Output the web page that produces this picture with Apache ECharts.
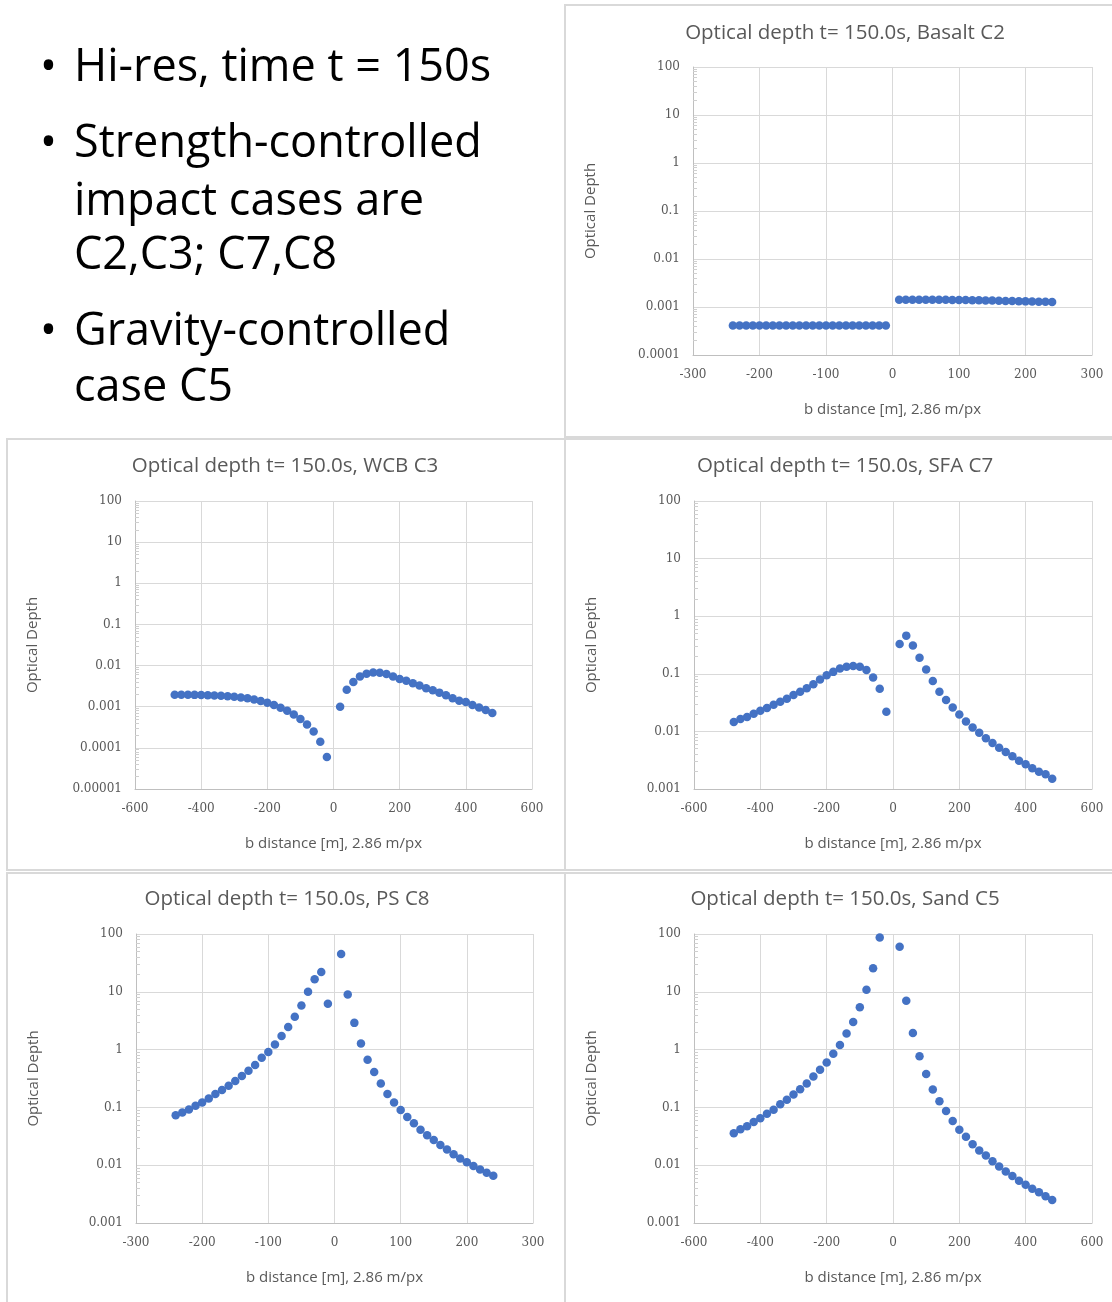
<!DOCTYPE html>
<html>
<head>
<meta charset="utf-8">
<title>Optical depth t = 150 s</title>
<script src="https://cdn.jsdelivr.net/npm/echarts@6/dist/echarts.min.js"></script>
<style>
  html, body { margin: 0; padding: 0; background: #fff; }
  #main { width: 1112px; height: 1302px; }
</style>
</head>
<body>
<div id="main"></div>
<script>
// Basalt C2 (step 10 m, nothing at 0)
const c2X = [-240, -230, -220, -210, -200, -190, -180, -170, -160, -150, -140, -130,
  -120, -110, -100, -90, -80, -70, -60, -50, -40, -30, -20, -10,
  10, 20, 30, 40, 50, 60, 70, 80, 90, 100, 110, 120,
  130, 140, 150, 160, 170, 180, 190, 200, 210, 220, 230, 240];
const c2Y = [0.00041, 0.00041, 0.00041, 0.00041, 0.00041, 0.00041, 0.00041, 0.00041, 0.00041, 0.00041, 0.00041, 0.00041,
  0.00041, 0.00041, 0.00041, 0.00041, 0.00041, 0.00041, 0.00041, 0.00041, 0.00041, 0.00041, 0.00041, 0.00041,
  0.00142, 0.00142, 0.00142, 0.00142, 0.00142, 0.00141, 0.00141, 0.00141, 0.0014, 0.0014, 0.0014, 0.00139,
  0.00138, 0.00137, 0.00136, 0.00135, 0.00134, 0.00133, 0.00132, 0.00131, 0.0013, 0.00129, 0.00128, 0.00127];

// WCB C3 (step 20 m)
const c3X = [-480, -460, -440, -420, -400, -380, -360, -340, -320, -300, -280, -260,
  -240, -220, -200, -180, -160, -140, -120, -100, -80, -60, -40, -20,
  20, 40, 60, 80, 100, 120, 140, 160, 180, 200, 220, 240,
  260, 280, 300, 320, 340, 360, 380, 400, 420, 440, 460, 480];
const c3Y = [0.00195, 0.00195, 0.00195, 0.00194, 0.00192, 0.0019, 0.00188, 0.00184, 0.0018, 0.00175, 0.00168, 0.0016,
  0.0015, 0.00138, 0.00125, 0.0011, 0.00095, 0.0008, 0.00065, 0.0005, 0.00037, 0.00025, 0.00014, 0.00006,
  0.001, 0.0026, 0.004, 0.0054, 0.0063, 0.0068, 0.0067, 0.0062, 0.0054, 0.0047, 0.0043, 0.0037,
  0.0033, 0.0028, 0.0025, 0.0022, 0.0019, 0.0016, 0.0014, 0.0013, 0.0011, 0.00096, 0.00083, 0.0007];

// SFA C7 (step 20 m)
const c7X = [-480, -460, -440, -420, -400, -380, -360, -340, -320, -300, -280, -260,
  -240, -220, -200, -180, -160, -140, -120, -100, -80, -60, -40, -20,
  20, 40, 60, 80, 100, 120, 140, 160, 180, 200, 220, 240,
  260, 280, 300, 320, 340, 360, 380, 400, 420, 440, 460, 480];
const c7Y = [0.0145, 0.0164, 0.0177, 0.0202, 0.0228, 0.0254, 0.029, 0.0326, 0.037, 0.0427, 0.0488, 0.056,
  0.066, 0.08, 0.094, 0.108, 0.124, 0.132, 0.137, 0.132, 0.116, 0.086, 0.055, 0.022,
  0.33, 0.46, 0.31, 0.19, 0.119, 0.075, 0.049, 0.035, 0.026, 0.0197, 0.0149, 0.0117,
  0.0095, 0.0076, 0.0063, 0.0052, 0.0044, 0.0037, 0.0031, 0.0027, 0.0023, 0.002, 0.0018, 0.0015];

// PS C8 (step 10 m)
const c8X = [-240, -230, -220, -210, -200, -190, -180, -170, -160, -150, -140, -130,
  -120, -110, -100, -90, -80, -70, -60, -50, -40, -30, -20, -10,
  10, 20, 30, 40, 50, 60, 70, 80, 90, 100, 110, 120,
  130, 140, 150, 160, 170, 180, 190, 200, 210, 220, 230, 240];
const c8Y = [0.073, 0.082, 0.092, 0.107, 0.122, 0.143, 0.17, 0.2, 0.237, 0.285, 0.35, 0.43,
  0.54, 0.72, 0.91, 1.22, 1.72, 2.46, 3.7, 5.8, 10, 16.5, 22, 6.2,
  45, 9.0, 2.9, 1.27, 0.67, 0.41, 0.26, 0.17, 0.122, 0.09, 0.068, 0.053,
  0.041, 0.033, 0.0274, 0.0224, 0.0187, 0.0155, 0.013, 0.0113, 0.0097, 0.0084, 0.0074, 0.0066];

// Sand C5 (step 20 m, -20 is off the top of the chart)
const c5X = [-480, -460, -440, -420, -400, -380, -360, -340, -320, -300, -280, -260,
  -240, -220, -200, -180, -160, -140, -120, -100, -80, -60, -40,
  20, 40, 60, 80, 100, 120, 140, 160, 180, 200, 220, 240,
  260, 280, 300, 320, 340, 360, 380, 400, 420, 440, 460, 480];
const c5Y = [0.0356, 0.0418, 0.047, 0.056, 0.0646, 0.0777, 0.091, 0.113, 0.136, 0.167, 0.207, 0.26,
  0.342, 0.45, 0.6, 0.85, 1.2, 1.9, 3.0, 5.4, 10.8, 25.6, 87,
  60, 7.0, 1.94, 0.77, 0.38, 0.204, 0.128, 0.0865, 0.058, 0.041, 0.031, 0.023,
  0.018, 0.0147, 0.0117, 0.0095, 0.0078, 0.0065, 0.0054, 0.0046, 0.0039, 0.0034, 0.0029, 0.0025];

const titles = ['Optical depth t= 150.0s, Basalt C2', 'Optical depth t= 150.0s, WCB C3',
  'Optical depth t= 150.0s, SFA C7', 'Optical depth t= 150.0s, PS C8', 'Optical depth t= 150.0s, Sand C5'];
const xRanges = [[-300, 300, 100], [-600, 600, 200], [-600, 600, 200], [-300, 300, 100], [-600, 600, 200]];
const yRanges = [[0.0001, 100], [0.00001, 100], [0.001, 100], [0.001, 100], [0.001, 100]];
const bullets = ['Hi-res, time t = 150s', 'Strength-controlled', 'impact cases are', 'C2,C3; C7,C8',
  'Gravity-controlled', 'case C5'];

const xs = [c2X, c3X, c7X, c8X, c5X];
const ys = [c2Y, c3Y, c7Y, c8Y, c5Y];

// where each panel sits on the page
const grids = [
  { left: 693, top: 67, width: 399, height: 288 },
  { left: 135, top: 501, width: 397, height: 288 },
  { left: 694, top: 501, width: 398, height: 288 },
  { left: 136, top: 934, width: 397, height: 289 },
  { left: 694, top: 934, width: 398, height: 289 }
];
const titlePos = [[845, 23], [285, 456], [845, 456], [287, 889], [845, 889]];

const grey = '#595959';
const tickFont = 'DejaVu Serif';

function logLabel(v) {
  const e = Math.round(Math.log10(v));
  return e >= 0 ? String(Math.round(Math.pow(10, e))) : '0.' + '0'.repeat(-e - 1) + '1';
}

let myChart = echarts.init(document.getElementById('main'), null, { renderer: 'canvas' });

let option = {
  backgroundColor: '#fff',
  animation: false,
  title: titles.map((t, i) => ({
    text: t,
    left: titlePos[i][0],
    top: titlePos[i][1],
    textAlign: 'center',
    padding: 0,
    textStyle: { fontFamily: 'Open Sans', fontSize: 20.5, fontWeight: 'normal', color: grey }
  })),
  grid: grids.map(g => Object.assign({ containLabel: false }, g)),
  xAxis: xRanges.map((r, i) => ({
    type: 'value',
    gridIndex: i,
    min: r[0],
    max: r[1],
    interval: r[2],
    name: 'b distance [m], 2.86 m/px',
    nameLocation: 'middle',
    nameGap: 47,
    nameTextStyle: { fontFamily: 'Open Sans', fontSize: 15, color: grey },
    axisLine: { onZero: false, lineStyle: { color: '#bfbfbf', width: 1 } },
    axisTick: { show: false },
    axisLabel: { margin: 14, fontFamily: tickFont, fontSize: 12, color: grey },
    splitLine: { show: true, lineStyle: { color: '#d9d9d9', width: 1 } }
  })),
  yAxis: yRanges.map((r, i) => ({
    type: 'log',
    logBase: 10,
    gridIndex: i,
    min: r[0],
    max: r[1],
    splitNumber: Math.round(Math.log10(r[1] / r[0])),
    name: 'Optical Depth',
    nameLocation: 'middle',
    nameGap: 95,
    nameTextStyle: { fontFamily: 'Open Sans', fontSize: 15, color: grey },
    axisLine: { show: true, onZero: false, lineStyle: { color: '#bfbfbf', width: 1 } },
    axisTick: { show: false, inside: true },
    minorTick: { show: true, splitNumber: 9, length: 4, lineStyle: { color: '#cfcfcf' } },
    axisLabel: { margin: 13, fontFamily: tickFont, fontSize: 12, color: grey, formatter: logLabel },
    splitLine: { show: true, lineStyle: { color: '#d9d9d9', width: 1 } }
  })),
  series: xs.map((x, i) => ({
    type: 'scatter',
    xAxisIndex: i,
    yAxisIndex: i,
    symbolSize: 8.5,
    itemStyle: { color: '#4472C4', opacity: 1 },
    data: x.map((v, k) => [v, ys[i][k]])
  })),
  graphic: []
};

// panel frames
const frames = [[565, 5, 560, 432], [7, 439, 558, 431], [565, 439, 560, 431], [7, 873, 558, 440], [565, 873, 560, 440]];
frames.forEach(f => {
  option.graphic.push({
    type: 'rect',
    shape: { x: f[0], y: f[1], width: f[2], height: f[3] },
    style: { fill: 'none', stroke: '#d9d9d9', lineWidth: 2 },
    z: -1
  });
});

// bullet text block
const lineY = [68, 144, 202, 256, 332, 388];
const hasBullet = [true, true, false, false, true, false];
bullets.forEach((t, i) => {
  option.graphic.push({
    type: 'text',
    x: 74,
    y: lineY[i],
    style: { text: t, font: '45px "Open Sans"', fill: '#000', textVerticalAlign: 'middle' }
  });
  if (hasBullet[i]) {
    option.graphic.push({
      type: 'text',
      x: 40,
      y: lineY[i],
      style: { text: '\u2022', font: '45px "Open Sans"', fill: '#000', textVerticalAlign: 'middle' }
    });
  }
});

myChart.setOption(option);
window.addEventListener('resize', () => {
  myChart.resize();
});
</script>
</body>
</html>
